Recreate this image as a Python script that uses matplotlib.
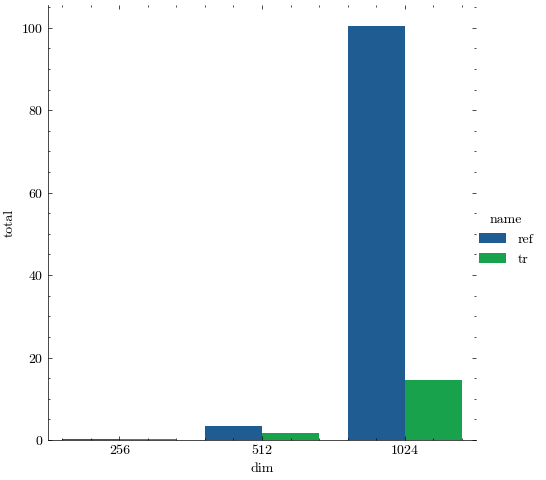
import matplotlib
matplotlib.use("Agg")
import matplotlib.pyplot as plt
import seaborn as sns
import pandas as pd
from matplotlib.ticker import AutoMinorLocator

dims = ["256", "512", "1024"]
names = ["ref", "tr"]
ref_total = [0.3, 3.4, 100.5]
tr_total = [0.2, 1.7, 14.6]
palette = ["#0C5DA5", "#00B945"]

df = pd.DataFrame({
    "dim": dims * 2,
    "name": ["ref"] * 3 + ["tr"] * 3,
    "total": ref_total + tr_total,
})

plt.rcParams.update({
    "font.family": "serif",
    "font.serif": ["cmr10", "DejaVu Serif"],
    "axes.formatter.use_mathtext": True,
    "mathtext.fontset": "cm",
    "font.size": 10,
    "axes.linewidth": 0.5,
    "xtick.direction": "in",
    "ytick.direction": "in",
    "xtick.major.size": 3,
    "ytick.major.size": 3,
    "xtick.minor.size": 1.5,
    "ytick.minor.size": 1.5,
    "xtick.major.width": 0.5,
    "ytick.major.width": 0.5,
    "xtick.minor.width": 0.5,
    "ytick.minor.width": 0.5,
    "xtick.top": True,
    "ytick.right": True,
})

fig = plt.figure(figsize=(5.46, 4.8), dpi=100)
ax = fig.add_axes([48 / 546, 40 / 480, 428 / 546, 435 / 480])

sns.barplot(data=df, x="dim", y="total", hue="name", order=dims,
            hue_order=names, palette=palette, ax=ax, errorbar=None)

ax.spines["top"].set_visible(False)
ax.spines["right"].set_visible(False)
ax.set_xlim(-0.5, 2.5)
ax.set_ylim(0, 105.5)
ax.xaxis.set_minor_locator(AutoMinorLocator(5))
ax.yaxis.set_minor_locator(AutoMinorLocator(4))
ax.tick_params(which="both", top=True, right=True, direction="in")
ax.set_xlabel("dim")
ax.set_ylabel("total")

handles, labels = ax.get_legend_handles_labels()
ax.legend_.remove()
fig.legend(handles, labels, title="name", frameon=False,
           loc="center left", bbox_to_anchor=(466 / 546, 0.5),
           handlelength=2.0, handleheight=0.7)

fig.savefig("out.png", dpi=100)
